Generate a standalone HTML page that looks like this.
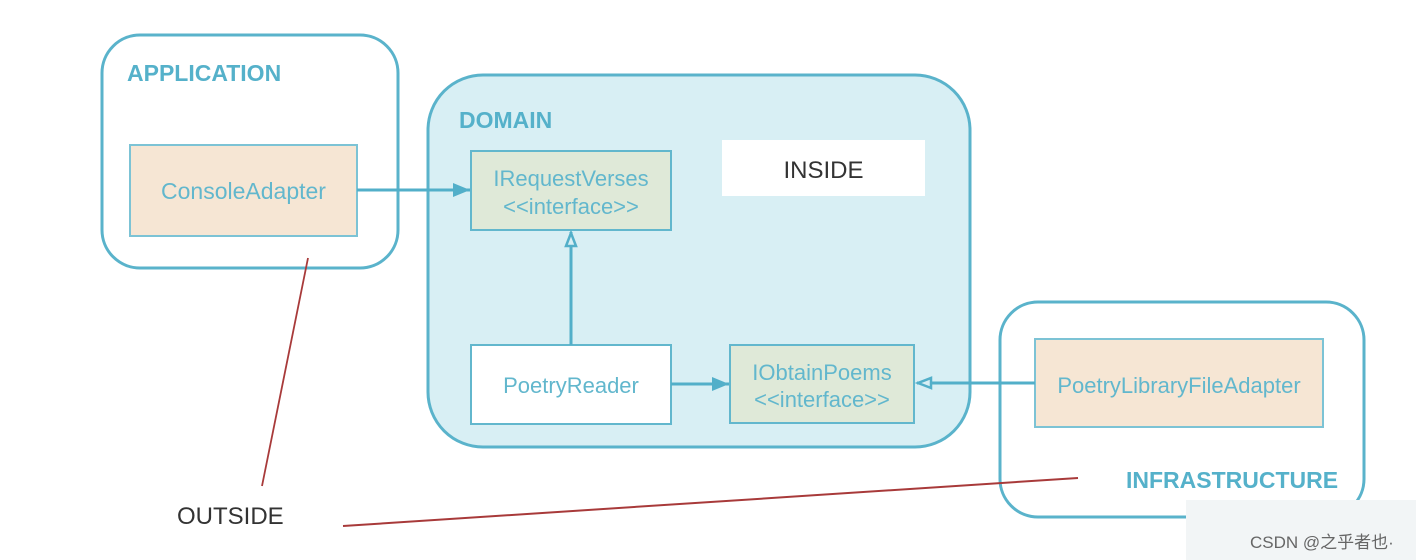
<!DOCTYPE html>
<html><head><meta charset="utf-8"><style>
html,body{margin:0;padding:0;background:#fff;width:1416px;height:560px;overflow:hidden}
svg{display:block}
text{font-family:"Liberation Sans","Noto Sans CJK SC",sans-serif}
</style></head><body>
<svg width="1416" height="560" viewBox="0 0 1416 560" xmlns="http://www.w3.org/2000/svg">
<defs>
<marker id="fa" markerWidth="18" markerHeight="16" refX="17" refY="8" orient="auto" markerUnits="userSpaceOnUse"><path d="M0,1 L17,8 L0,15 Z" fill="#52afc9"/></marker>
<marker id="ha" markerWidth="18" markerHeight="16" refX="16" refY="7" orient="auto" markerUnits="userSpaceOnUse"><path d="M2,2 L15,7 L2,12 Z" fill="#d8eff4" stroke="#52afc9" stroke-width="2.5"/></marker>
</defs>
<!-- Application -->
<rect x="102" y="35" width="296" height="233" rx="38" fill="#fff" stroke="#5ab3cb" stroke-width="3"/>
<text x="127" y="81" font-size="23" font-weight="bold" fill="#55b1ca">APPLICATION</text>
<rect x="130" y="145" width="227" height="91" fill="#f6e6d4" stroke="#7cc3d5" stroke-width="2"/>
<text x="243.5" y="199" font-size="23" fill="#62b7cd" text-anchor="middle">ConsoleAdapter</text>
<!-- Domain -->
<rect x="428" y="75" width="542" height="372" rx="55" fill="#d8eff4" stroke="#5ab3cb" stroke-width="3"/>
<text x="459" y="128" font-size="23" font-weight="bold" fill="#55b1ca">DOMAIN</text>
<rect x="722" y="140" width="203" height="56" fill="#fff"/>
<text x="823.5" y="178" font-size="24" fill="#333" text-anchor="middle">INSIDE</text>
<rect x="471" y="151" width="200" height="79" fill="#dfe9d8" stroke="#62b7cd" stroke-width="2"/>
<text x="571" y="186" font-size="22" fill="#62b7cd" text-anchor="middle">IRequestVerses</text>
<text x="571" y="214" font-size="22" fill="#62b7cd" text-anchor="middle">&lt;&lt;interface&gt;&gt;</text>
<rect x="471" y="345" width="200" height="79" fill="#fff" stroke="#62b7cd" stroke-width="2"/>
<text x="571" y="393" font-size="22" fill="#62b7cd" text-anchor="middle">PoetryReader</text>
<rect x="730" y="345" width="184" height="78" fill="#dfe9d8" stroke="#62b7cd" stroke-width="2"/>
<text x="822" y="380" font-size="22" fill="#62b7cd" text-anchor="middle">IObtainPoems</text>
<text x="822" y="407" font-size="22" fill="#62b7cd" text-anchor="middle">&lt;&lt;interface&gt;&gt;</text>
<!-- Infrastructure -->
<rect x="1000" y="302" width="364" height="215" rx="38" fill="#fff" stroke="#5ab3cb" stroke-width="3"/>
<rect x="1035" y="339" width="288" height="88" fill="#f6e6d4" stroke="#7cc3d5" stroke-width="2"/>
<text x="1179" y="393" font-size="22" fill="#62b7cd" text-anchor="middle">PoetryLibraryFileAdapter</text>
<text x="1126" y="488" font-size="23" font-weight="bold" fill="#55b1ca">INFRASTRUCTURE</text>
<!-- connectors -->
<line x1="357" y1="190" x2="470" y2="190" stroke="#52afc9" stroke-width="3" marker-end="url(#fa)"/>
<line x1="571" y1="345" x2="571" y2="232" stroke="#52afc9" stroke-width="3" marker-end="url(#ha)"/>
<line x1="671" y1="384" x2="729" y2="384" stroke="#52afc9" stroke-width="3" marker-end="url(#fa)"/>
<line x1="1035" y1="383" x2="917" y2="383" stroke="#52afc9" stroke-width="3" marker-end="url(#ha)"/>
<!-- red lines -->
<line x1="308" y1="258" x2="262" y2="486" stroke="#a83a3a" stroke-width="1.8"/>
<line x1="343" y1="526" x2="1078" y2="478" stroke="#a83a3a" stroke-width="2"/>
<text x="177" y="524" font-size="24" fill="#333">OUTSIDE</text>
<!-- watermark -->
<rect x="1186" y="500" width="230" height="60" fill="#f2f5f6"/>
<text x="1250" y="548" font-size="17" fill="#666">CSDN @之乎者也·</text>
</svg>
</body></html>
